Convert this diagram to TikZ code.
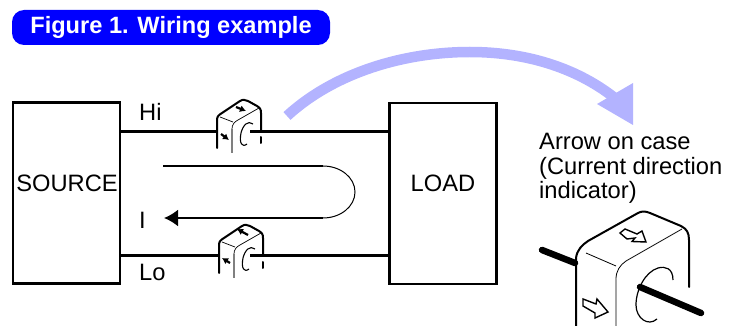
\documentclass[tikz,border=0pt]{standalone}
\usepackage{fontspec}
\setmainfont{Liberation Sans}
\usetikzlibrary{arrows.meta}
\definecolor{pill}{RGB}{0,0,255}
\definecolor{sweep}{RGB}{179,179,255}
\tikzset{
  x=1pt,y=-1pt,
  wire/.style={line width=3pt,black},
  boxnode/.style={draw=black,line width=2.5pt,minimum width=107pt,minimum height=181pt,inner sep=0pt,font=\fontsize{23.7}{26}\selectfont},
  lab/.style={inner sep=0pt,font=\fontsize{23.7}{26}\selectfont,anchor=base west},
  body/.style={line width=2pt,black,line cap=round,line join=round},
  thin body/.style={line width=0.7pt,black},
  tiparrow/.style={line width=2.2pt,-{Latex[length=6pt,width=7pt]}},
  openarrow/.style={draw=black,fill=white,line width=1.4pt,line join=miter},
  pics/sensor/.style={code={
    \draw[body] (217,148) -- (217,120) .. controls (217,116) and (219,115) .. (222,113) -- (240,101) .. controls (243,99) and (245,100) .. (248,101) -- (257,106) .. controls (260,108) and (261,109) .. (261,113) -- (261,131);
    \draw[body] (261,137) -- (261,143);
    \draw[thin body] (220,117) -- (233,122);
    \draw[draw=gray,line width=1.1pt] (232,153) -- (232,129);
    \draw[thin body] (232,129) .. controls (232,125) and (234,122) .. (238,120) -- (259,108);
    \draw[line width=1.1pt] (253,124) .. controls (248,120) and (243,125) .. (241,133) .. controls (239,143) and (242,148) .. (247,144);
  }}
}
\begin{document}
\begin{tikzpicture}
\useasboundingbox (0,0) rectangle (732,326);
% title
\node[fill=pill,rounded corners=12pt,minimum width=318pt,minimum height=35pt,inner sep=0pt,text=white,font=\fontsize{23.6}{26}\selectfont\bfseries] (title) at (171,27.5) {Figure 1. Wiring example};
% sweep arrow
\coordinate (sweepA) at (287,116);
\coordinate (sweepB) at (470,52);
\coordinate (sweepC) at (616,99);
\draw[sweep,line width=10.5pt] (sweepA) .. controls (335,72) and (405,52) .. (sweepB) .. controls (530,52) and (580,70) .. (sweepC);
\fill[sweep] (633,125) -- (633,83) -- (597,104) -- cycle;
% boxes
\node[boxnode] (source) at (66.5,193) {\raisebox{20pt}{\hspace{1pt}SOURCE}};
\node[boxnode] (load) at (443,193.5) {\raisebox{20pt}{LOAD}};
% wires
\coordinate (hiL) at (217,132);
\coordinate (hiR) at (250,132);
\coordinate (loL) at (219,256);
\coordinate (loR) at (250,256);
\draw[wire] (source.east |- hiL) -- (hiL);
\draw[wire] (hiR) -- (load.west |- hiR);
\draw[wire] (source.east |- loL) -- (loL);
\draw[wire] (loR) -- (load.west |- loR);
% sensors
\pic at (0,0) {sensor};
\draw[tiparrow] (236,107) -- (246,111);
\draw[tiparrow] (221,134) -- (229,140);
\pic at (2,125) {sensor};
\draw[tiparrow] (248,235) -- (237,229);
\draw[tiparrow] (230,263) -- (222,258);
% current loop
\coordinate (loopA) at (163,166);
\coordinate (loopB) at (164,218);
\draw[line width=2pt] (loopA) -- (323,166);
\draw[line width=1pt] (323,166) arc[start angle=-90,end angle=90,x radius=32,y radius=26];
\draw[line width=2pt,-{Latex[length=14pt,width=17pt]}] (323,218) -- (loopB);
% labels
\node[lab] (hi) at (139,121) {Hi};
\node[lab] (lo) at (139,281) {Lo};
\node[lab] (i) at (139,229) {I};
\node[lab] (l1) at (539,150) {Arrow on case};
\node[lab] (l2) at (539,175) {(Current direction};
\node[lab] (l3) at (539,199) {indicator)};
% big sensor
\draw[line width=6.5pt,line cap=round] (542,250) -- (575,263);
\draw[line width=6.5pt,line cap=round] (640,287) -- (701,313);
\draw[line width=2pt,line cap=round,line join=round] (576,326) -- (576,258) .. controls (577,250) and (582,245) .. (588,241) -- (638,213) .. controls (642,211) and (645,211) .. (650,213) -- (681,226) .. controls (687,229) and (689,233) .. (689,240) -- (689,287);
\draw[line width=0.8pt] (586,253) -- (616,266);
\draw[line width=0.8pt] (616,326) -- (616,279) .. controls (616,271) and (620,265) .. (626,261) -- (682,229);
\draw[line width=1.2pt] (673,280) .. controls (673,268) and (665,266) .. (658,268) .. controls (645,272) and (636,290) .. (636,305) .. controls (636,318) and (648,327) .. (657,319);
\draw[openarrow] (620,233) -- (625,229) -- (637,234) -- (642,231) -- (646,242) -- (632,241.5) -- (635,238) -- (627,239) -- cycle;
\draw[openarrow] (583,299) -- (583,306) -- (595,313) -- (595,318) -- (608,312) -- (597,299) -- (596,304) -- cycle;
\end{tikzpicture}
\end{document}
